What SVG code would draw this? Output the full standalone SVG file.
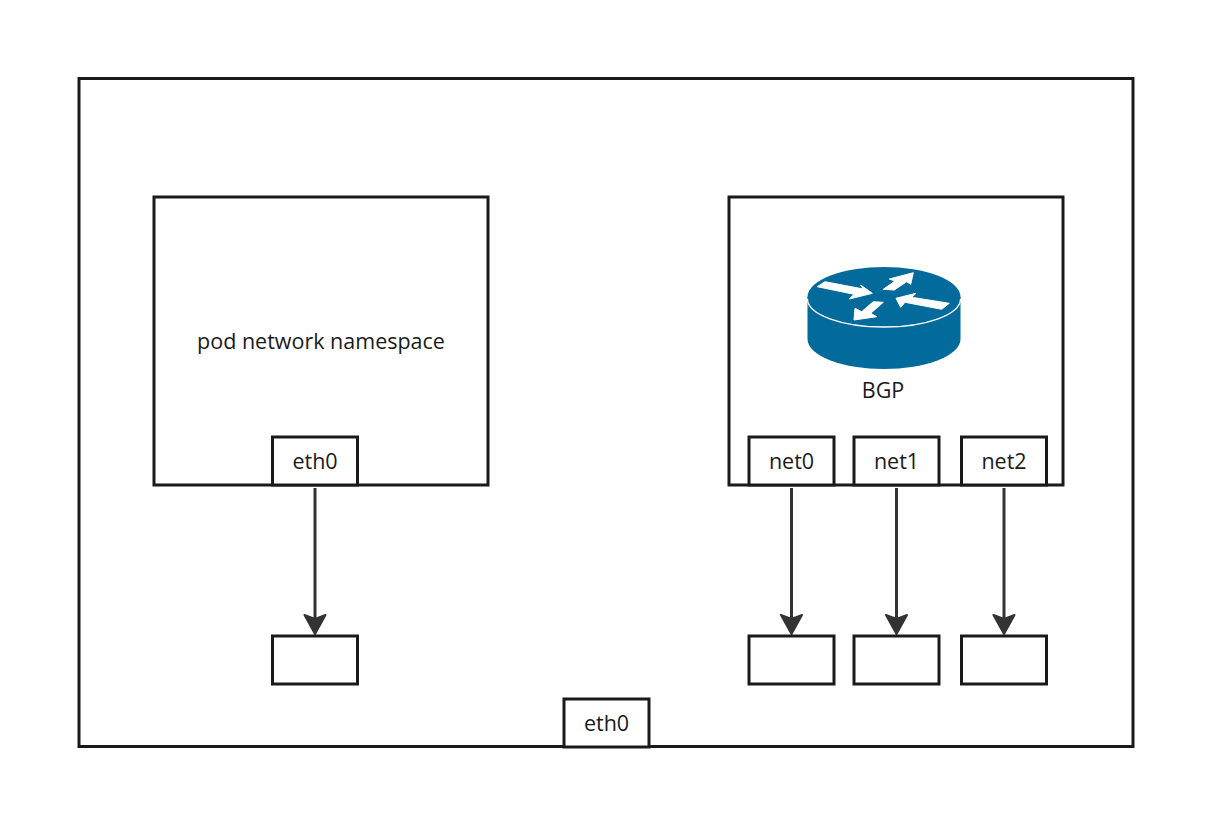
<svg xmlns="http://www.w3.org/2000/svg" width="1211" height="825" viewBox="0 0 1211 825">
<style>
.box{fill:#fff;stroke:#1a1a1a;stroke-width:3}
.lbl{font-family:"Open Sans","Noto Sans",sans-serif;font-size:21.500px;fill:#1a1a1a;text-anchor:middle}
.conn{fill:none;stroke:#333;stroke-width:3;marker-end:url(#ah)}
.rt{fill:#036a9c}
.ra{fill:#fff;stroke:#fff;stroke-width:1;stroke-linejoin:round}
</style>
<defs>
<marker id="ah" markerUnits="userSpaceOnUse" markerWidth="28" markerHeight="28" refX="14" refY="14" orient="auto">
<path d="M1,3.500 L20,14 L1,24.500 L5,14 Z" fill="#333" stroke="#333" stroke-width="2" stroke-linejoin="round"/>
</marker>
</defs>
<rect width="1211" height="825" fill="#fff"/>
<g id="host"><rect class="box" x="79" y="78.500" width="1054" height="668"/></g>
<g id="pod"><rect class="box" x="154" y="197" width="334" height="288"/><text class="lbl" x="321" y="349">pod network namespace</text></g>
<g id="bgpns"><rect class="box" x="729" y="197" width="334" height="288"/></g>
<g id="router">
<path class="rt" d="M807.500,297 L807.500,339 A76.500,30 0 0 0 960.500,339 L960.500,297 Z"/>
<ellipse class="rt" cx="884" cy="297" rx="76.500" ry="30"/>
<path d="M807.500,299 A76.500,28 0 0 0 960.500,299" fill="none" stroke="#fff" stroke-width="1.300"/>
<polygon class="ra" points="817.300,286.700 825,281.700 863.300,289 860.700,285 872.300,293.300 849.300,299 854,294.300"/>
<polygon class="ra" points="913.300,272.700 889.300,279 895,281 883.300,289.300 894.300,290 906.700,281.700 910.700,284.300"/>
<polygon class="ra" points="896,298.300 916,293.300 911.700,297.300 949.300,303.300 941.700,309.300 905,302.300 900.700,307.300"/>
<polygon class="ra" points="854,320 876.700,316.700 870.700,313.300 883.300,302.300 873.300,301.700 861.700,311.700 855,308.300"/>
<text class="lbl" x="883" y="398">BGP</text>
</g>
<g id="connectors">
<path class="conn" d="M315,488 V628"/>
<path class="conn" d="M791.500,488 V628"/>
<path class="conn" d="M896.500,488 V628"/>
<path class="conn" d="M1004,488 V628"/>
</g>
<g id="pod-eth0"><rect class="box" x="272.500" y="437" width="85" height="48"/><text class="lbl" x="315" y="469">eth0</text></g>
<g id="net0"><rect class="box" x="749" y="437" width="85" height="48"/><text class="lbl" x="791.500" y="469">net0</text></g>
<g id="net1"><rect class="box" x="854" y="437" width="85" height="48"/><text class="lbl" x="896.500" y="469">net1</text></g>
<g id="net2"><rect class="box" x="961.500" y="437" width="85" height="48"/><text class="lbl" x="1004" y="469">net2</text></g>
<g id="pod-peer"><rect class="box" x="272.500" y="636" width="85" height="48"/></g>
<g id="net0-peer"><rect class="box" x="749" y="636" width="85" height="48"/></g>
<g id="net1-peer"><rect class="box" x="854" y="636" width="85" height="48"/></g>
<g id="net2-peer"><rect class="box" x="961.500" y="636" width="85" height="48"/></g>
<g id="host-eth0"><rect class="box" x="564" y="699" width="85" height="48"/><text class="lbl" x="606.500" y="731">eth0</text></g>
</svg>
